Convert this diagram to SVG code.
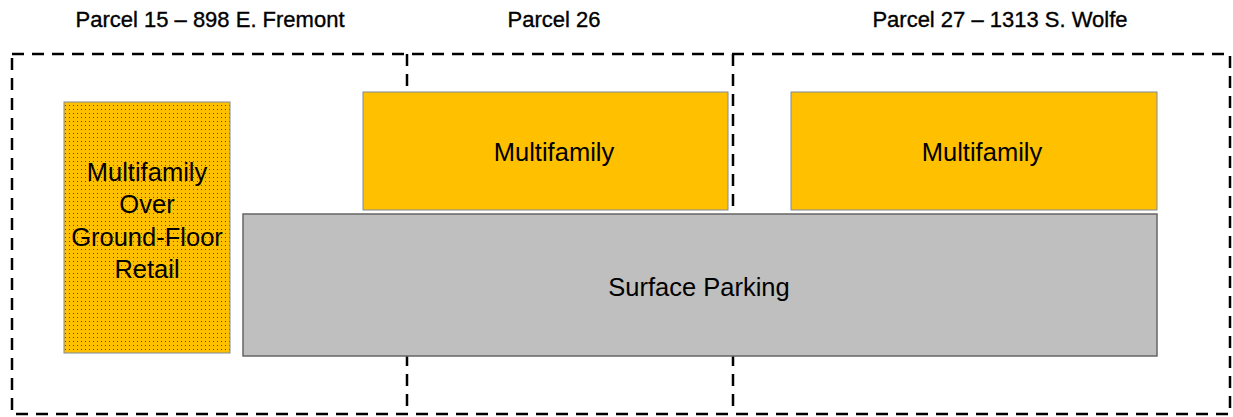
<svg xmlns="http://www.w3.org/2000/svg" width="1233" height="417" viewBox="0 0 1233 417">
<style>
.lbl{font-family:"Liberation Sans",Arial,sans-serif;font-size:22px;fill:#000;stroke:#000;stroke-width:0.35;text-anchor:middle}
.box{font-family:"Liberation Sans",Arial,sans-serif;font-size:25.5px;fill:#000;text-anchor:middle}
.dash{fill:none;stroke:#000;stroke-width:2.5;stroke-dasharray:12 8}
.mf{fill:#ffc000;stroke:#7f8a9a;stroke-width:1}
</style>
<defs>
<pattern id="dots" width="4" height="4" patternUnits="userSpaceOnUse">
<rect width="4" height="4" fill="#ffc000"/>
<rect x="1" y="1" width="1" height="1" fill="#5a4a1a"/>
</pattern>
</defs>
<rect width="1233" height="417" fill="#fff"/>
<g id="titles">
<text class="lbl" x="210" y="27">Parcel 15 – 898 E. Fremont</text>
<text class="lbl" x="554" y="27">Parcel 26</text>
<text class="lbl" x="1000" y="27">Parcel 27 – 1313 S. Wolfe</text>
</g>
<g id="parcels">
<rect class="dash" x="12" y="54" width="1218" height="360"/>
<line class="dash" x1="407" y1="54" x2="407" y2="414"/>
<line class="dash" x1="733" y1="54" x2="733" y2="414"/>
</g>
<g id="mixed-use">
<rect x="64" y="102" width="166" height="251" fill="url(#dots)" stroke="#7f8a9a" stroke-width="1"/>
<text class="box" x="147" y="181">Multifamily</text>
<text class="box" x="147" y="213">Over</text>
<text class="box" x="147" y="246">Ground-Floor</text>
<text class="box" x="147" y="278">Retail</text>
</g>
<g id="multifamily-26">
<rect class="mf" x="363" y="92" width="365" height="118"/>
<text class="box" x="554" y="161">Multifamily</text>
</g>
<g id="multifamily-27">
<rect class="mf" x="791" y="92" width="366" height="118"/>
<text class="box" x="982" y="161">Multifamily</text>
</g>
<g id="parking">
<rect x="243" y="214" width="914" height="142" fill="#bfbfbf" stroke="#666" stroke-width="1.5"/>
<text class="box" x="699" y="296">Surface Parking</text>
</g>
</svg>
